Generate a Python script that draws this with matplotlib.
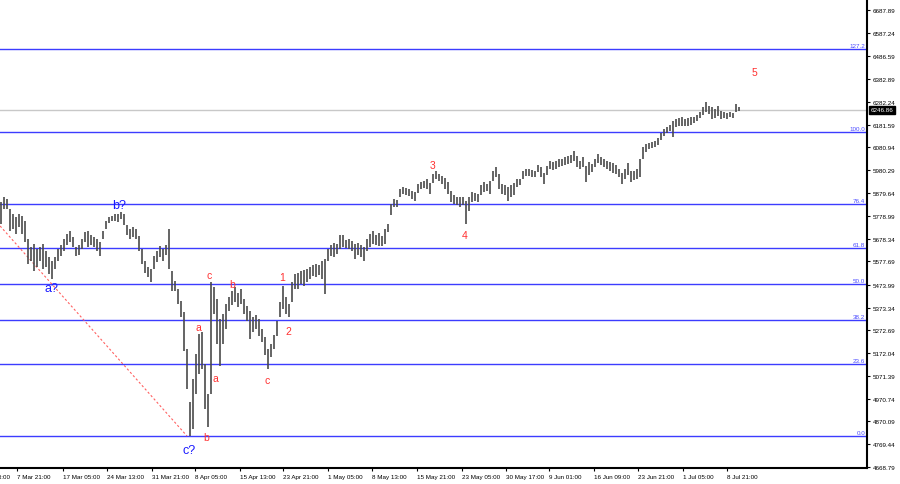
import matplotlib
matplotlib.use("Agg")
import matplotlib.pyplot as plt
import numpy as np

plt.rcParams['font.family'] = ['Liberation Sans', 'DejaVu Sans']

# H4 bars, high and low of each bar
highs = [5840, 5862, 5853, 5809, 5787, 5774, 5787, 5778, 5756, 5676,
         5641, 5654, 5632, 5641, 5654, 5623, 5597, 5579, 5597, 5632,
         5650, 5676, 5699, 5712, 5685, 5641, 5650, 5676, 5707, 5712,
         5694, 5685, 5676, 5663, 5712, 5756, 5774, 5778, 5787, 5787,
         5796, 5787, 5738, 5721, 5729, 5721, 5690, 5632, 5579, 5553,
         5544, 5601, 5623, 5645, 5632, 5650, 5721, 5535, 5491, 5455,
         5402, 5354, 5190, 4956, 5058, 5168, 5257, 5265, 5124, 4991,
         5486, 5464, 5411, 5323, 5345, 5389, 5420, 5447, 5464, 5438,
         5455, 5411, 5380, 5358, 5332, 5341, 5323, 5279, 5243, 5190,
         5212, 5252, 5314, 5398, 5469, 5420, 5389, 5486, 5522, 5526,
         5535, 5539, 5544, 5553, 5562, 5566, 5562, 5579, 5588, 5632,
         5650, 5659, 5654, 5694, 5694, 5672, 5676, 5668, 5654, 5659,
         5650, 5641, 5676, 5699, 5712, 5694, 5703, 5690, 5721, 5743,
         5831, 5853, 5849, 5897, 5906, 5902, 5897, 5889, 5884, 5919,
         5928, 5933, 5942, 5924, 5964, 5977, 5964, 5955, 5946, 5928,
         5889, 5871, 5862, 5862, 5862, 5844, 5862, 5884, 5880, 5875,
         5915, 5928, 5919, 5933, 5977, 5995, 5964, 5919, 5915, 5906,
         5915, 5924, 5942, 5942, 5977, 5986, 5986, 5981, 5977, 6003,
         5995, 5968, 5999, 6021, 6017, 6021, 6030, 6030, 6039, 6043,
         6048, 6065, 6043, 6021, 6039, 5999, 6017, 6008, 6030, 6052,
         6039, 6030, 6021, 6017, 6012, 6003, 5986, 5968, 5986, 6012,
         5977, 5977, 5986, 6030, 6083, 6096, 6101, 6105, 6110, 6123,
         6145, 6162, 6171, 6180, 6198, 6207, 6211, 6216, 6207, 6211,
         6216, 6216, 6224, 6238, 6260, 6282, 6264, 6260, 6251, 6264,
         6242, 6238, 6233, 6238, 6233, 6273, 6260]
lows = [5743, 5809, 5809, 5712, 5721, 5699, 5729, 5699, 5663, 5566,
        5579, 5535, 5553, 5579, 5544, 5553, 5522, 5500, 5544, 5579,
        5601, 5623, 5650, 5663, 5641, 5601, 5606, 5632, 5663, 5641,
        5650, 5641, 5623, 5601, 5676, 5721, 5747, 5756, 5756, 5752,
        5765, 5738, 5694, 5676, 5685, 5676, 5623, 5566, 5526, 5509,
        5486, 5544, 5575, 5597, 5579, 5606, 5544, 5447, 5447, 5389,
        5332, 5181, 5013, 4806, 4837, 4991, 5080, 5102, 4925, 4846,
        4991, 5345, 5212, 5115, 5212, 5279, 5358, 5385, 5398, 5376,
        5389, 5345, 5314, 5234, 5265, 5279, 5248, 5221, 5164, 5102,
        5155, 5190, 5248, 5332, 5367, 5345, 5332, 5398, 5455, 5455,
        5478, 5469, 5486, 5500, 5513, 5509, 5517, 5500, 5433, 5579,
        5601, 5597, 5610, 5632, 5641, 5637, 5632, 5623, 5588, 5606,
        5597, 5579, 5623, 5641, 5654, 5650, 5645, 5645, 5654, 5707,
        5782, 5818, 5818, 5862, 5875, 5871, 5866, 5853, 5844, 5880,
        5897, 5902, 5897, 5875, 5924, 5942, 5933, 5919, 5897, 5875,
        5840, 5831, 5827, 5818, 5827, 5743, 5800, 5840, 5844, 5840,
        5871, 5884, 5889, 5875, 5933, 5950, 5897, 5875, 5871, 5844,
        5862, 5871, 5906, 5915, 5942, 5955, 5955, 5950, 5950, 5972,
        5950, 5919, 5959, 5986, 5981, 5986, 5995, 5999, 6003, 6008,
        6012, 6021, 5995, 5986, 5995, 5928, 5959, 5972, 5995, 6012,
        6003, 5995, 5986, 5977, 5968, 5964, 5950, 5919, 5942, 5959,
        5928, 5937, 5942, 5950, 6030, 6061, 6074, 6079, 6083, 6092,
        6114, 6132, 6145, 6154, 6127, 6171, 6176, 6176, 6176, 6176,
        6180, 6189, 6198, 6211, 6224, 6238, 6229, 6207, 6211, 6220,
        6207, 6211, 6207, 6216, 6211, 6238, 6242]
last_price = 6246.86

# fibonacci grid drawn from the April low to the 100% level
fib_low = 4806
fib_high = 6149
fib_ratios = [0.0, 23.6, 38.2, 50.0, 61.8, 76.4, 100.0, 127.2]

# red dashed trend line (bar index, price)
trend_x = [-0.3, 62]
trend_y = [5734, 4806]

# wave marks
wave_text = ['b?', 'a?', 'c?', 'c', 'a', 'a', 'b', 'b', 'c', '1', '2', '3', '4', '5']
wave_x = [39.3, 16.7, 62.7, 69.3, 65.7, 71.3, 77, 68.3, 88.7, 93.7, 95.7, 143.7, 154.7, 251.3]
wave_y = [5827, 5460, 4744, 5517, 5288, 5062, 5478, 4801, 5053, 5508, 5270, 6003, 5694, 6414]
wave_color = ['blue'] * 3 + ['red'] * 11

# axis labels
price_ticks = [6687.89, 6587.24, 6486.59, 6382.89, 6282.24, 6181.59, 6080.94,
               5980.29, 5879.64, 5778.99, 5678.34, 5577.69, 5473.99, 5373.34,
               5272.69, 5172.04, 5071.39, 4970.74, 4870.09, 4769.44, 4668.79]
date_pos = [5.3, 20.7, 35.3, 50.3, 64.7, 79.7, 94, 109, 123.7, 138.7,
            153.7, 168.3, 182.7, 197.7, 212.3, 227.3, 242]
date_labels = ['7 Mar 21:00', '17 Mar 05:00', '24 Mar 13:00',
               '31 Mar 21:00', '8 Apr 05:00', '15 Apr 13:00', '23 Apr 21:00',
               '1 May 05:00', '8 May 13:00', '15 May 21:00', '23 May 05:00',
               '30 May 17:00', '9 Jun 01:00', '16 Jun 09:00', '23 Jun 21:00',
               '1 Jul 05:00', '8 Jul 21:00']
# label cut by the left edge (only its end shows, as on the source chart)
first_date_pos = -9.3
first_date_label = '28 Feb 13:00'

fig = plt.figure(figsize=(9, 4.85), dpi=100)
ax = fig.add_axes([0, 16 / 485, 867 / 900, 469 / 485])

# fib levels
for r in fib_ratios:
    level = fib_low + (fib_high - fib_low) * r / 100.0
    ax.axhline(level, color='#3c3cff', lw=1.0, zorder=1)
    ax.text(0.998, level + 4, '%.1f' % r, transform=ax.get_yaxis_transform(),
            ha='right', va='bottom', fontsize=4.5, color='#4a4aff')

# current price line
ax.axhline(last_price, color='#c8c8c8', lw=1.0, zorder=1)

# trend line
ax.plot(trend_x, trend_y, color='#ff6060', lw=0.8, dashes=(2, 2), zorder=2)

# price bars
x = np.arange(len(highs))
ax.vlines(x, lows, highs, color='#4a4a4a', lw=1.2, zorder=3)

# wave counts
for t, wx, wy, c in zip(wave_text, wave_x, wave_y, wave_color):
    if c == 'blue':
        ax.text(wx, wy, t, color='#1a1aff', fontsize=9, ha='center', va='center')
    else:
        ax.text(wx, wy, t, color='#ff3030', fontsize=7.5, ha='center', va='center')

# axes look
for s in ['top', 'left']:
    ax.spines[s].set_visible(False)
for s in ['right', 'bottom']:
    ax.spines[s].set_linewidth(1.5)
    ax.spines[s].set_color('black')

ax.yaxis.tick_right()
ax.set_yticks(price_ticks)
ax.set_yticklabels(['%.2f' % p for p in price_ticks])
ax.tick_params(axis='y', length=2.5, pad=1.5, labelsize=4.5)
ax.set_xticks(date_pos)
ax.set_xticklabels(date_labels, ha='left')
ax.tick_params(axis='x', length=2.5, pad=1.5, labelsize=4.5)
ax.text(first_date_pos, -0.018, first_date_label, transform=ax.get_xaxis_transform(),
        ha='left', va='center', fontsize=4.5, clip_on=False)

# limits after the ticks, set_xticks would widen them
ax.set_xlim(-0.33, 288.67)
ax.set_ylim(4664.5, 6737)

# last price box on the scale
ax.text(1.004, last_price, '%.2f' % last_price, transform=ax.get_yaxis_transform(),
        ha='left', va='center', fontsize=4.5, color='white',
        bbox=dict(boxstyle='square,pad=0.25', fc='black', ec='black'))

fig.savefig('out.png', dpi=100)
